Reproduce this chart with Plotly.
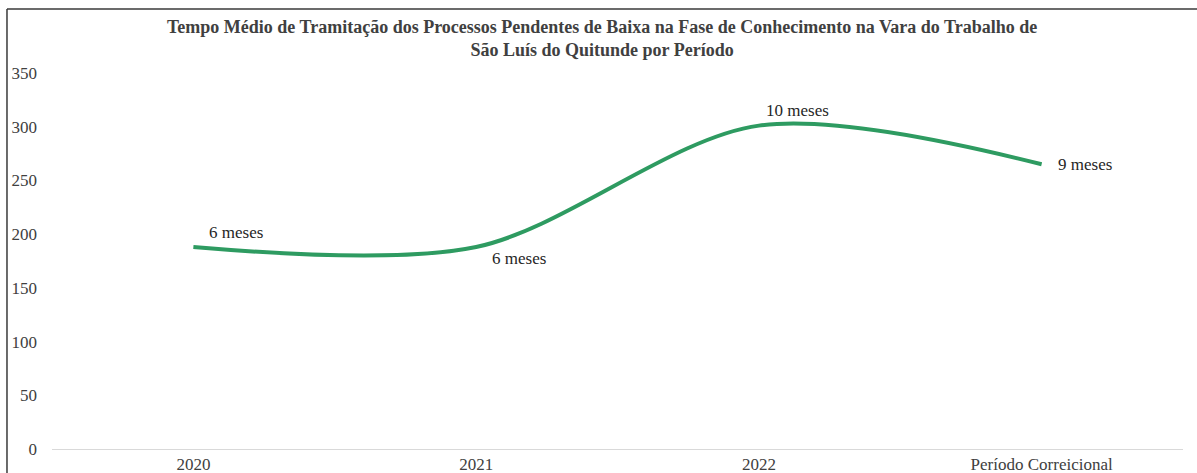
import plotly.graph_objects as go

periods = ["2020", "2021", "2022", "Período Correicional"]
days = [188, 188, 301, 265]
labels = ["6 meses", "6 meses", "10 meses", "9 meses"]

title = ("Tempo Médio de Tramitação dos Processos Pendentes de Baixa na Fase de "
         "Conhecimento na Vara do Trabalho de<br>São Luís do Quitunde por Período")

GREEN = "#2E9B61"
SERIF = "Liberation Serif"

fig = go.Figure()
fig.add_trace(go.Scatter(
    x=periods, y=days, mode="lines",
    line=dict(color=GREEN, width=4, shape="spline", smoothing=0.9),
    hoverinfo="skip", showlegend=False,
))

# label offsets (px) relative to each point
shifts = [(43, 15), (43, -11), (39, 15), (43, 0)]
for i, (v, t, (dx, dy)) in enumerate(zip(days, labels, shifts)):
    fig.add_annotation(x=i, y=v, xref="x", yref="y", text=t, showarrow=False,
                       xshift=dx, yshift=dy, xanchor="center", yanchor="middle",
                       font=dict(family=SERIF, size=17, color="#262626"))

# chart frame (top and left edges visible)
fig.add_shape(type="line", xref="paper", yref="paper",
              x0=-0.0398, x1=-0.0398, y0=-0.1, y1=1.170,
              line=dict(color="#3a3a3a", width=1.5))
fig.add_shape(type="line", xref="paper", yref="paper",
              x0=-0.0398, x1=1.05, y0=1.170, y1=1.170,
              line=dict(color="#3a3a3a", width=1.5))

fig.update_layout(
    width=1197, height=473,
    margin=dict(l=52, r=14, t=73, b=24),
    paper_bgcolor="white", plot_bgcolor="white",
    title=dict(text=title, x=0.503, xanchor="center",
               yref="container", y=1 - 33 / 473, yanchor="middle",
               font=dict(family=SERIF, size=18, color="#404040", weight="bold")),
    xaxis=dict(type="category", showgrid=False, showline=True, linecolor="#D9D9D9",
               linewidth=1, ticks="", automargin=False,
               tickfont=dict(family=SERIF, size=17, color="#404040"),
               range=[-0.5, 3.5], zeroline=False),
    yaxis=dict(range=[0, 350], dtick=50, showgrid=False, zeroline=False,
               showline=False, ticks="", ticklabelstandoff=14, automargin=False,
               tickfont=dict(family=SERIF, size=17, color="#404040")),
)

fig.write_html("out.html", config={"displayModeBar": False},
               post_script="document.body.style.margin='0';")
